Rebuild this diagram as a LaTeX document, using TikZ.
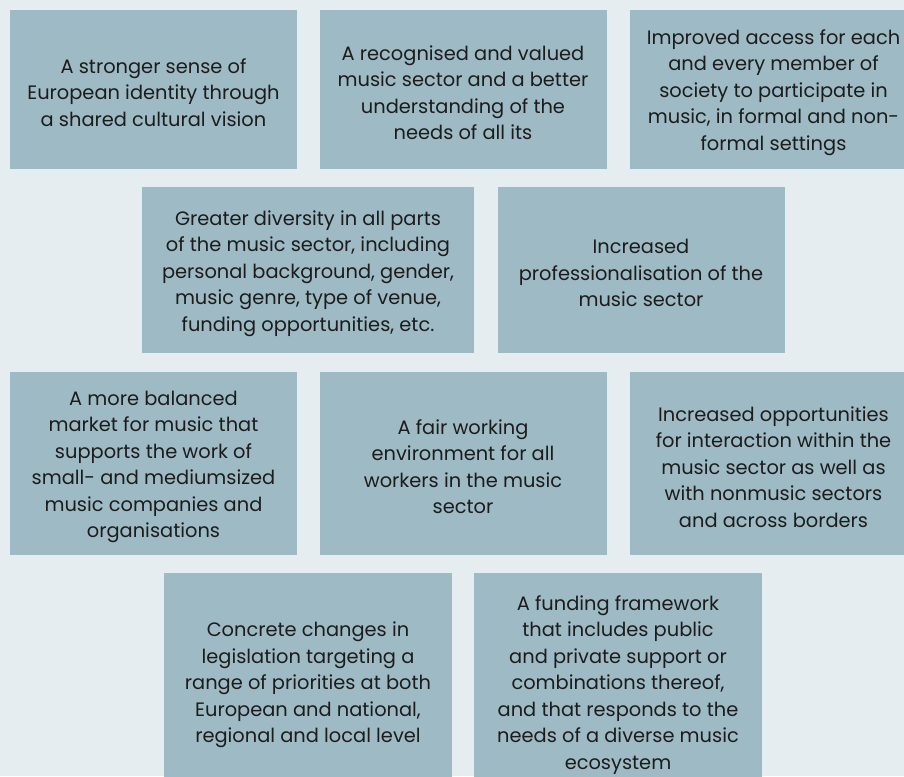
\documentclass[tikz,border=0pt]{standalone}
\usepackage{fontspec}
\setmainfont{Poppins}
\definecolor{bgc}{HTML}{E5EDF1}
\definecolor{boxc}{HTML}{9EBAC4}
\definecolor{txtc}{HTML}{1C1C1C}
\begin{document}
\begin{tikzpicture}[x=1pt,y=-1pt,
  goalbox/.style={fill=boxc, draw=none, inner sep=0pt},
  goaltext/.style={inner sep=0pt, align=center, text=txtc,
    font=\fontsize{19.4}{26.5}\selectfont},
  w287/.style={minimum width=287pt},
  w332/.style={minimum width=332pt}]
\useasboundingbox (0,0) rectangle (904,776);
\clip (0,0) rectangle (904,776);
\fill[bgc] (0,0) rectangle (904,776);
% row 1
\node[goalbox, w287, minimum height=159pt] (b1) at (153.5,89.5) {};
\node[goaltext] (t1) at ([yshift=-3pt]b1.center)
  {A stronger sense of\\European identity through\\a shared cultural vision};
\node[goalbox, w287, minimum height=159pt] (b2) at (463,89.5) {};
\node[goaltext] (t2) at ([yshift=-3pt]b2.center)
  {A recognised and valued\\music sector and a better\\understanding of the\\needs of all its};
\node[goalbox, w287, minimum height=159pt] (b3) at (773.5,89.5) {};
\node[goaltext] (t3) at ([yshift=-3pt]b3.center)
  {Improved access for each\\and every member of\\society to participate in\\music, in formal and non-\\formal settings};
% row 2
\node[goalbox, w332, minimum height=166pt] (b4) at (308,270.3) {};
\node[goaltext] (t4) at ([yshift=-3pt]b4.center)
  {Greater diversity in all parts\\of the music sector, including\\personal background, gender,\\music genre, type of venue,\\funding opportunities, etc.};
\node[goalbox, w287, minimum height=166pt] (b5) at (641,270.3) {};
\node[goaltext] (t5) at ([yshift=-3pt]b5.center)
  {Increased\\professionalisation of the\\music sector};
% row 3
\node[goalbox, w287, minimum height=183pt] (b6) at (153.5,463.7) {};
\node[goaltext] (t6) at ([yshift=-3pt]b6.center)
  {A more balanced\\market for music that\\supports the work of\\small- and mediumsized\\music companies and\\organisations};
\node[goalbox, w287, minimum height=183pt] (b7) at (463,463.7) {};
\node[goaltext] (t7) at ([yshift=-3pt]b7.center)
  {A fair working\\environment for all\\workers in the music\\sector};
\node[goalbox, w287, minimum height=183pt] (b8) at (773.5,463.7) {};
\node[goaltext] (t8) at ([yshift=-3pt]b8.center)
  {Increased opportunities\\for interaction within the\\music sector as well as\\with nonmusic sectors\\and across borders};
% row 4
\node[goalbox, minimum width=288pt, minimum height=218pt] (b9) at (308,682) {};
\node[goaltext] (t9) at ([yshift=-3pt]b9.center)
  {Concrete changes in\\legislation targeting a\\range of priorities at both\\European and national,\\regional and local level};
\node[goalbox, minimum width=288pt, minimum height=218pt] (b10) at (618,682) {};
\node[goaltext] (t10) at ([yshift=-3pt]b10.center)
  {A funding framework\\that includes public\\and private support or\\combinations thereof,\\and that responds to the\\needs of a diverse music\\ecosystem};
\end{tikzpicture}
\end{document}
